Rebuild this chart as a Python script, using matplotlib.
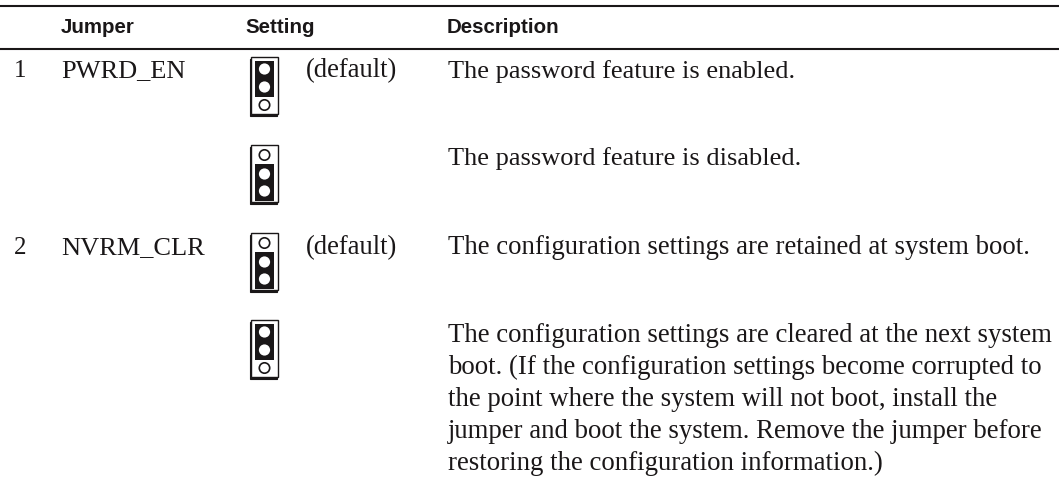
import matplotlib
matplotlib.use("Agg")
import matplotlib.pyplot as plt
from matplotlib.patches import Rectangle, Circle

headers = ["Jumper", "Setting", "Description"]
numbers = ["1", "2"]
jumpers = ["PWRD_EN", "NVRM_CLR"]
default_label = "(default)"
descriptions = [
    "The password feature is enabled.",
    "The password feature is disabled.",
    "The configuration settings are retained at system boot.",
    "The configuration settings are cleared at the next system",
    "boot. (If the configuration settings become corrupted to",
    "the point where the system will not boot, install the",
    "jumper and boot the system. Remove the jumper before",
    "restoring the configuration information.)",
]
desc_baselines = [78, 165, 254, 342, 374, 406, 438, 470]
desc_sizes = [19, 19, 19.3, 19.3, 19.3, 19.3, 19.3, 19.3]
icon_tops = [58, 146, 234, 321]
icon_closed_top = [True, False, False, True]

fig = plt.figure(figsize=(10.59, 4.85), dpi=100)
ax = fig.add_axes([0, 0, 1, 1])
ax.set_xlim(0, 1059)
ax.set_ylim(485, 0)
ax.axis("off")

INK = "#1a1718"
SERIF = "Liberation Serif"
HEAD = "Liberation Sans"

ax.plot([0, 1059], [6.7, 6.7], color=INK, lw=1.5, solid_capstyle="butt")
ax.plot([0, 1059], [50, 50], color=INK, lw=1.5, solid_capstyle="butt")

for x, h in zip([61, 245, 447], headers):
    ax.text(x, 33, h, family=HEAD, weight="bold", fontsize=14.8, color=INK, va="baseline")

for y, s in zip([77, 254], numbers):
    ax.text(14, y, s, family=SERIF, fontsize=18, color=INK, va="baseline")
for y, s in zip([77, 254], jumpers):
    ax.text(61, y, s, family=SERIF, fontsize=19, color=INK, va="baseline")
for y in [77, 254]:
    ax.text(306, y, default_label, family=SERIF, fontsize=19.2, color=INK, va="baseline")
for y, s, fs in zip(desc_baselines, descriptions, desc_sizes):
    ax.text(448, y, s, family=SERIF, fontsize=fs, color=INK, va="baseline")


def jumper(top, closed_top):
    left = 251
    w, h = 27, 57
    ax.add_patch(Rectangle((left - 1.5, top + 1.5), w, h, fc=INK, ec=INK, lw=0.8, zorder=2))
    ax.add_patch(Rectangle((left, top), w, h, fc="white", ec=INK, lw=1.0, zorder=3))
    cx = left + w / 2
    ys = [top + 12, top + 30, top + 48] if closed_top else [top + 10, top + 29, top + 46]
    by = (top + 3.5, 36) if closed_top else (top + 19, 37)
    ax.add_patch(Rectangle((left + 4, by[0]), w - 8, by[1], fc=INK, ec="none", zorder=4))
    caps = [0, 1] if closed_top else [1, 2]
    for i, y in enumerate(ys):
        if i in caps:
            ax.add_patch(Circle((cx, y), 5.6, fc="white", ec="none", zorder=5))
        else:
            ax.add_patch(Circle((cx, y), 5.2, fc="white", ec=INK, lw=1.2, zorder=5))


for t, c in zip(icon_tops, icon_closed_top):
    jumper(t, c)

fig.savefig("out.png", dpi=100, facecolor="white")
